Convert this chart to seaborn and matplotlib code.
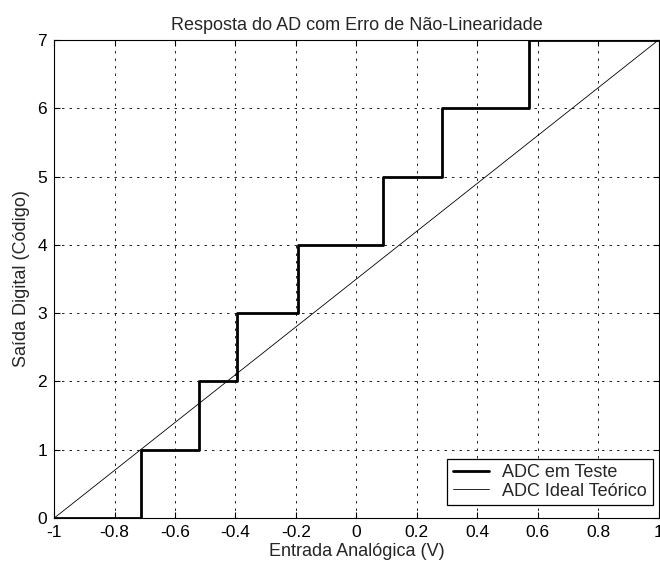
import matplotlib
matplotlib.use("Agg")
import matplotlib.pyplot as plt
import seaborn as sns
import pandas as pd

# Data
adc_x = [-1.0, -0.712, -0.522, -0.394, -0.194, 0.089, 0.282, 0.571, 1.0]
adc_code = [0, 1, 2, 3, 4, 5, 6, 7, 7]
ideal_x = [-1.0, 1.0]
ideal_code = [0, 7]
x_ticks = [-1, -0.8, -0.6, -0.4, -0.2, 0, 0.2, 0.4, 0.6, 0.8, 1]
x_tick_labels = ["-1", "-0.8", "-0.6", "-0.4", "-0.2", "0", "0.2", "0.4", "0.6", "0.8", "1"]
y_ticks = [0, 1, 2, 3, 4, 5, 6, 7]

sns.set_style("white")
plt.rcParams['font.family'] = ['Liberation Sans', 'DejaVu Sans']

fig = plt.figure(figsize=(6.6, 5.7), dpi=100)
ax = fig.add_axes([0.082, 0.091, 0.916, 0.839])

df_adc = pd.DataFrame({"x": adc_x, "y": adc_code})
df_ideal = pd.DataFrame({"x": ideal_x, "y": ideal_code})

sns.lineplot(data=df_adc, x="x", y="y", ax=ax, color="black", linewidth=2.0,
             drawstyle="steps-post", label="ADC em Teste", estimator=None, sort=False)
sns.lineplot(data=df_ideal, x="x", y="y", ax=ax, color="black", linewidth=0.6,
             label="ADC Ideal Teórico", estimator=None, sort=False)

ax.set_xlim(-1, 1)
ax.set_ylim(0, 7)
ax.set_xticks(x_ticks)
ax.set_xticklabels(x_tick_labels)
ax.set_yticks(y_ticks)
ax.tick_params(direction="in", length=4, labelsize=12.5, colors="black", pad=5,
               top=True, right=True, bottom=True, left=True)
ax.grid(True, color="black", linestyle=(0, (3, 6)), linewidth=0.6)
for s in ax.spines.values():
    s.set_color("black")
    s.set_linewidth(0.8)

ax.set_title("Resposta do AD com Erro de Não-Linearidade", fontsize=13, pad=7)
ax.set_xlabel("Entrada Analógica (V)", fontsize=13, labelpad=2)
ax.set_ylabel("Saída Digital (Código)", fontsize=13, labelpad=5)

leg = ax.legend(loc="lower right", bbox_to_anchor=(0.990, 0.027), fontsize=13,
                frameon=True, fancybox=False, edgecolor="black", framealpha=1,
                borderaxespad=0, borderpad=0.3, labelspacing=0.1,
                handlelength=2.0, handletextpad=0.75)
leg.get_frame().set_linewidth(0.9)

fig.savefig("out.png", dpi=100)
